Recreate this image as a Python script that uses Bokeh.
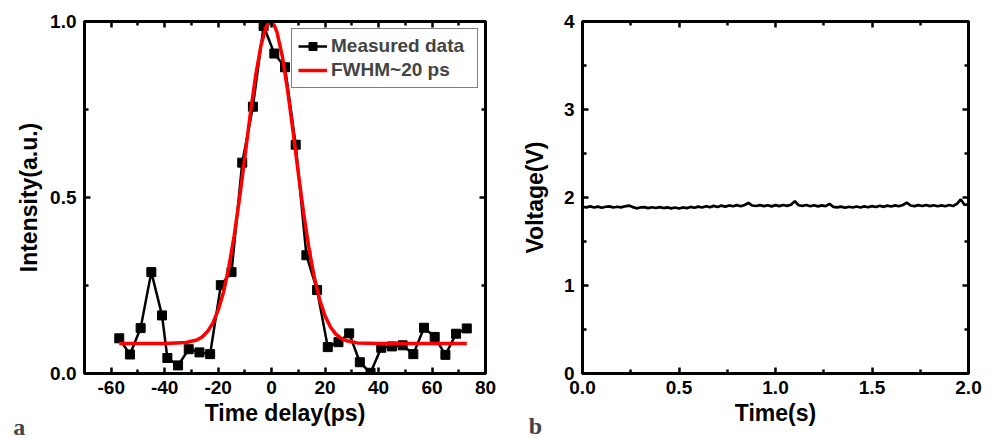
from bokeh.plotting import figure
from bokeh.layouts import row
from bokeh.models import (LinearAxis, FixedTicker, Range1d, Legend, LegendItem,
                          Label, CustomJSTickFormatter, NumeralTickFormatter)
from bokeh.embed import file_html
from bokeh.resources import INLINE

# ---------------- data ----------------
delay_ps = [-57, -53, -49, -45, -41, -39, -35, -31, -27, -23, -19, -15, -11, -7, -3,
            1, 5, 9, 13, 17, 21, 25, 29, 33, 37, 41, 45, 49, 53, 57, 61, 65, 69, 73]
intensity = [0.100, 0.054, 0.129, 0.288, 0.165, 0.044, 0.023, 0.069, 0.060, 0.055,
             0.251, 0.288, 0.599, 0.758, 0.987, 0.909, 0.870, 0.650, 0.336, 0.237,
             0.075, 0.089, 0.114, 0.032, 0.002, 0.073, 0.077, 0.080, 0.055, 0.130,
             0.104, 0.053, 0.113, 0.128]

fit_x = [-57, -40, -32, -28, -26, -24, -22, -20, -18, -16, -14, -12, -10, -8, -6, -4,
         -2, -0.4, 1, 2, 4, 6, 8, 10, 12, 14, 16, 18, 20, 22, 24, 26, 28, 32, 40, 73]
fit_y = [0.085, 0.085, 0.088, 0.095, 0.104, 0.119, 0.143, 0.180, 0.231, 0.303, 0.392,
         0.498, 0.616, 0.736, 0.845, 0.932, 0.986, 1.000, 0.989, 0.970, 0.901, 0.803,
         0.688, 0.568, 0.454, 0.354, 0.272, 0.209, 0.163, 0.132, 0.112, 0.100, 0.093,
         0.087, 0.085, 0.085]

time_s = [0.00, 0.02, 0.04, 0.06, 0.08, 0.10, 0.12, 0.14, 0.16, 0.18,
          0.20, 0.22, 0.24, 0.26, 0.28, 0.30, 0.32, 0.34, 0.36, 0.38,
          0.40, 0.42, 0.44, 0.46, 0.48, 0.50, 0.52, 0.54, 0.56, 0.58,
          0.60, 0.62, 0.64, 0.66, 0.68, 0.70, 0.72, 0.74, 0.76, 0.78,
          0.80, 0.82, 0.84, 0.86, 0.88, 0.90, 0.92, 0.94, 0.96, 0.98,
          1.00, 1.02, 1.04, 1.06, 1.08, 1.10, 1.12, 1.14, 1.16, 1.18,
          1.20, 1.22, 1.24, 1.26, 1.28, 1.30, 1.32, 1.34, 1.36, 1.38,
          1.40, 1.42, 1.44, 1.46, 1.48, 1.50, 1.52, 1.54, 1.56, 1.58,
          1.60, 1.62, 1.64, 1.66, 1.68, 1.70, 1.72, 1.74, 1.76, 1.78,
          1.80, 1.82, 1.84, 1.86, 1.88, 1.90, 1.92, 1.94, 1.96, 1.98, 2.00]
voltage = [1.895, 1.888, 1.899, 1.886, 1.896, 1.884, 1.895, 1.899, 1.886, 1.895,
           1.888, 1.900, 1.908, 1.891, 1.877, 1.887, 1.890, 1.879, 1.889, 1.881,
           1.891, 1.880, 1.888, 1.877, 1.886, 1.875, 1.887, 1.879, 1.893, 1.883,
           1.896, 1.886, 1.901, 1.890, 1.905, 1.892, 1.908, 1.896, 1.910, 1.900,
           1.913, 1.901, 1.915, 1.938, 1.909, 1.903, 1.913, 1.902, 1.912, 1.899,
           1.913, 1.902, 1.915, 1.905, 1.918, 1.958, 1.912, 1.905, 1.915, 1.901,
           1.912, 1.899, 1.911, 1.901, 1.928, 1.894, 1.887, 1.896, 1.884, 1.895,
           1.886, 1.898, 1.887, 1.899, 1.889, 1.902, 1.892, 1.906, 1.894, 1.908,
           1.898, 1.911, 1.900, 1.915, 1.941, 1.909, 1.902, 1.913, 1.903, 1.914,
           1.902, 1.912, 1.900, 1.911, 1.901, 1.915, 1.904, 1.928, 1.978, 1.915, 1.925]

x1_major = [-60, -40, -20, 0, 20, 40, 60, 80]
x1_minor = [-70, -50, -30, -10, 10, 30, 50, 70]
y1_major = [0.0, 0.5, 1.0]
y1_minor = [0.25, 0.75]
x2_major = [0.0, 0.5, 1.0, 1.5, 2.0]
x2_minor = [0.25, 0.75, 1.25, 1.75]
y2_major = [0, 1, 2, 3, 4]
y2_minor = [0.5, 1.5, 2.5, 3.5]

FONT = "Liberation Sans"
AXW = 3
blank = CustomJSTickFormatter(code="return ''")


def style_axis(ax, label_size="19px"):
    ax.axis_line_width = AXW
    ax.axis_line_color = "black"
    ax.major_tick_in = 6
    ax.major_tick_out = 0
    ax.minor_tick_in = 4
    ax.minor_tick_out = 0
    ax.major_tick_line_width = 2.5
    ax.minor_tick_line_width = 2.5
    ax.major_label_text_font = FONT
    ax.major_label_text_font_style = "bold"
    ax.major_label_text_font_size = label_size
    ax.major_label_text_color = "black"
    ax.major_label_standoff = 8
    ax.axis_label_text_font = FONT
    ax.axis_label_text_font_style = "bold"
    ax.axis_label_text_font_size = "23px"
    ax.axis_label_text_color = "black"


def make_fig(xr, yr, xmaj, xmin, ymaj, ymin, xfmt, yfmt, xlabel, ylabel,
             border_left, border_right, frame_w, ylab_standoff):
    p = figure(frame_width=frame_w, frame_height=352,
               x_range=Range1d(*xr), y_range=Range1d(*yr),
               output_backend="svg", toolbar_location=None,
               min_border_left=border_left, min_border_right=border_right,
               min_border_top=21, min_border_bottom=50,
               x_axis_label=xlabel, y_axis_label=ylabel)
    p.grid.visible = False
    p.outline_line_color = "black"
    p.outline_line_width = AXW
    p.xaxis.ticker = FixedTicker(ticks=xmaj, minor_ticks=xmin)
    p.yaxis.ticker = FixedTicker(ticks=ymaj, minor_ticks=ymin)
    p.xaxis.formatter = xfmt
    p.yaxis.formatter = yfmt
    style_axis(p.xaxis[0])
    style_axis(p.yaxis[0])
    p.xaxis.major_label_standoff = 7
    p.xaxis.axis_label_standoff = 3
    p.yaxis.axis_label_standoff = ylab_standoff
    top = LinearAxis(ticker=FixedTicker(ticks=xmaj, minor_ticks=xmin), formatter=blank)
    right = LinearAxis(ticker=FixedTicker(ticks=ymaj, minor_ticks=ymin), formatter=blank)
    for ax in (top, right):
        style_axis(ax, "1px")
        ax.major_label_standoff = 0
    p.add_layout(top, "above")
    p.add_layout(right, "right")
    return p


# ---------------- panel a ----------------
p1 = make_fig((-70, 80), (0, 1), x1_major, x1_minor, y1_major, y1_minor,
              NumeralTickFormatter(format="0"), NumeralTickFormatter(format="0.0"),
              "Time delay(ps)", "Intensity(a.u.)", 84, 24, 401, 5)

l1 = p1.line(delay_ps, intensity, line_color="black", line_width=2.5)
s1 = p1.scatter(delay_ps, intensity, marker="square", size=9,
                fill_color="black", line_color="black")
l2 = p1.line(fit_x, fit_y, line_color="#ff0000", line_width=3.5)

legend = Legend(items=[LegendItem(label="Measured data", renderers=[l1, s1]),
                       LegendItem(label="FWHM~20 ps", renderers=[l2])],
                location="top_right")
legend.margin = 7
legend.padding = 6
legend.spacing = 2
legend.label_standoff = 4
legend.label_width = 140
legend.glyph_width = 29
legend.glyph_height = 20
legend.border_line_color = "black"
legend.border_line_width = 1
legend.label_text_font = FONT
legend.label_text_font_style = "bold"
legend.label_text_font_size = "19px"
p1.add_layout(legend)

la = Label(x=-94.4, y=-0.1506, text="a", text_font="Liberation Serif",
           text_font_style="bold", text_font_size="24px",
           text_align="center", text_baseline="alphabetic")
p1.add_layout(la, "below")

# ---------------- panel b ----------------
p2 = make_fig((0, 2), (0, 4), x2_major, x2_minor, y2_major, y2_minor,
              NumeralTickFormatter(format="0.0"), NumeralTickFormatter(format="0"),
              "Time(s)", "Voltage(V)", 73, 20, 386, 13)

p2.line(time_s, voltage, line_color="black", line_width=2.7)

lb = Label(x=-0.2435, y=-0.602, text="b", text_font="Liberation Serif",
           text_font_style="bold", text_font_size="24px",
           text_align="center", text_baseline="alphabetic")
p2.add_layout(lb, "below")

layout = row(p1, p2)
open("out.html", "w").write(file_html(layout, INLINE))
